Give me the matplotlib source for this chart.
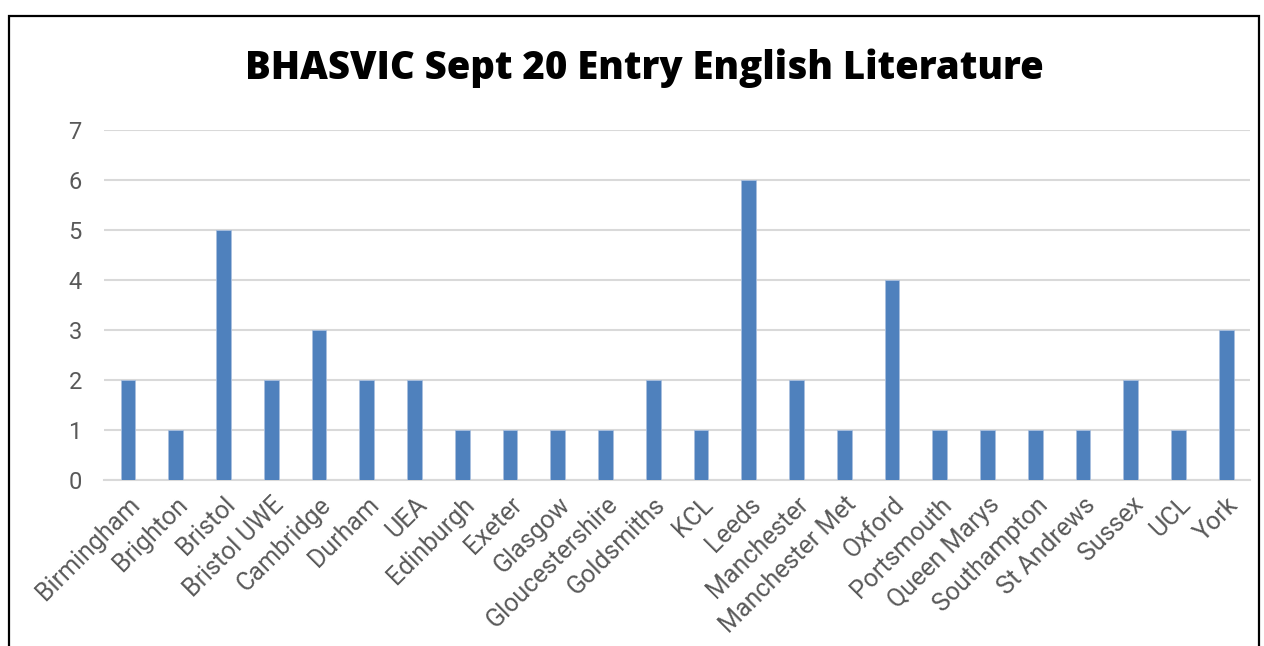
import matplotlib.pyplot as plt
from matplotlib.patches import Rectangle

universities = [
    "Birmingham", "Brighton", "Bristol", "Bristol UWE", "Cambridge", "Durham",
    "UEA", "Edinburgh", "Exeter", "Glasgow", "Gloucestershire", "Goldsmiths",
    "KCL", "Leeds", "Manchester", "Manchester Met", "Oxford", "Portsmouth",
    "Queen Marys", "Southampton", "St Andrews", "Sussex", "UCL", "York",
]
students = [2, 1, 5, 2, 3, 2, 2, 1, 1, 1, 1, 2, 1, 6, 2, 1, 4, 1, 1, 1, 1, 2, 1, 3]
y_ticks = [0, 1, 2, 3, 4, 5, 6, 7]

fig = plt.figure(figsize=(12.64, 6.46), dpi=100)
ax = fig.add_axes([0.0823, 0.257, 0.9067, 0.5418])

x = list(range(len(universities)))
ax.bar(x, students, width=0.31, color="#4f81bd", edgecolor="#a9c0df",
       linewidth=0.6, zorder=3)

ax.set_xlim(-0.5, len(universities) - 0.5)
ax.set_ylim(0, 7)
ax.set_yticks(y_ticks)
ax.yaxis.grid(True, color="#d9d9d9", linewidth=1.5, zorder=0)
ax.set_xticks(x)
ax.set_xticklabels(universities, rotation=45, ha="right", rotation_mode="anchor",
                   fontfamily="Roboto", fontsize=18, color="#595959")
for lbl in ax.get_yticklabels():
    lbl.set_fontfamily("Roboto")
    lbl.set_fontsize(17)
    lbl.set_color("#595959")
ax.tick_params(axis="both", length=0)
ax.tick_params(axis="y", pad=16)
ax.tick_params(axis="x", pad=9)
for side in ["top", "right", "left"]:
    ax.spines[side].set_visible(False)
ax.spines["bottom"].set_color("#d9d9d9")
ax.spines["bottom"].set_linewidth(1.5)

fig.text(0.51, 0.895, "BHASVIC Sept 20 Entry English Literature",
         ha="center", va="center", fontfamily="Open Sans", fontweight=800,
         fontsize=27.5, color="black")

border = Rectangle((9 / 1264, -0.2), 1250 / 1264, 1.2 - 16 / 646,
                   transform=fig.transFigure, fill=False, edgecolor="black",
                   linewidth=1.6, clip_on=False)
fig.patches.append(border)

fig.savefig("out.png", dpi=100)
